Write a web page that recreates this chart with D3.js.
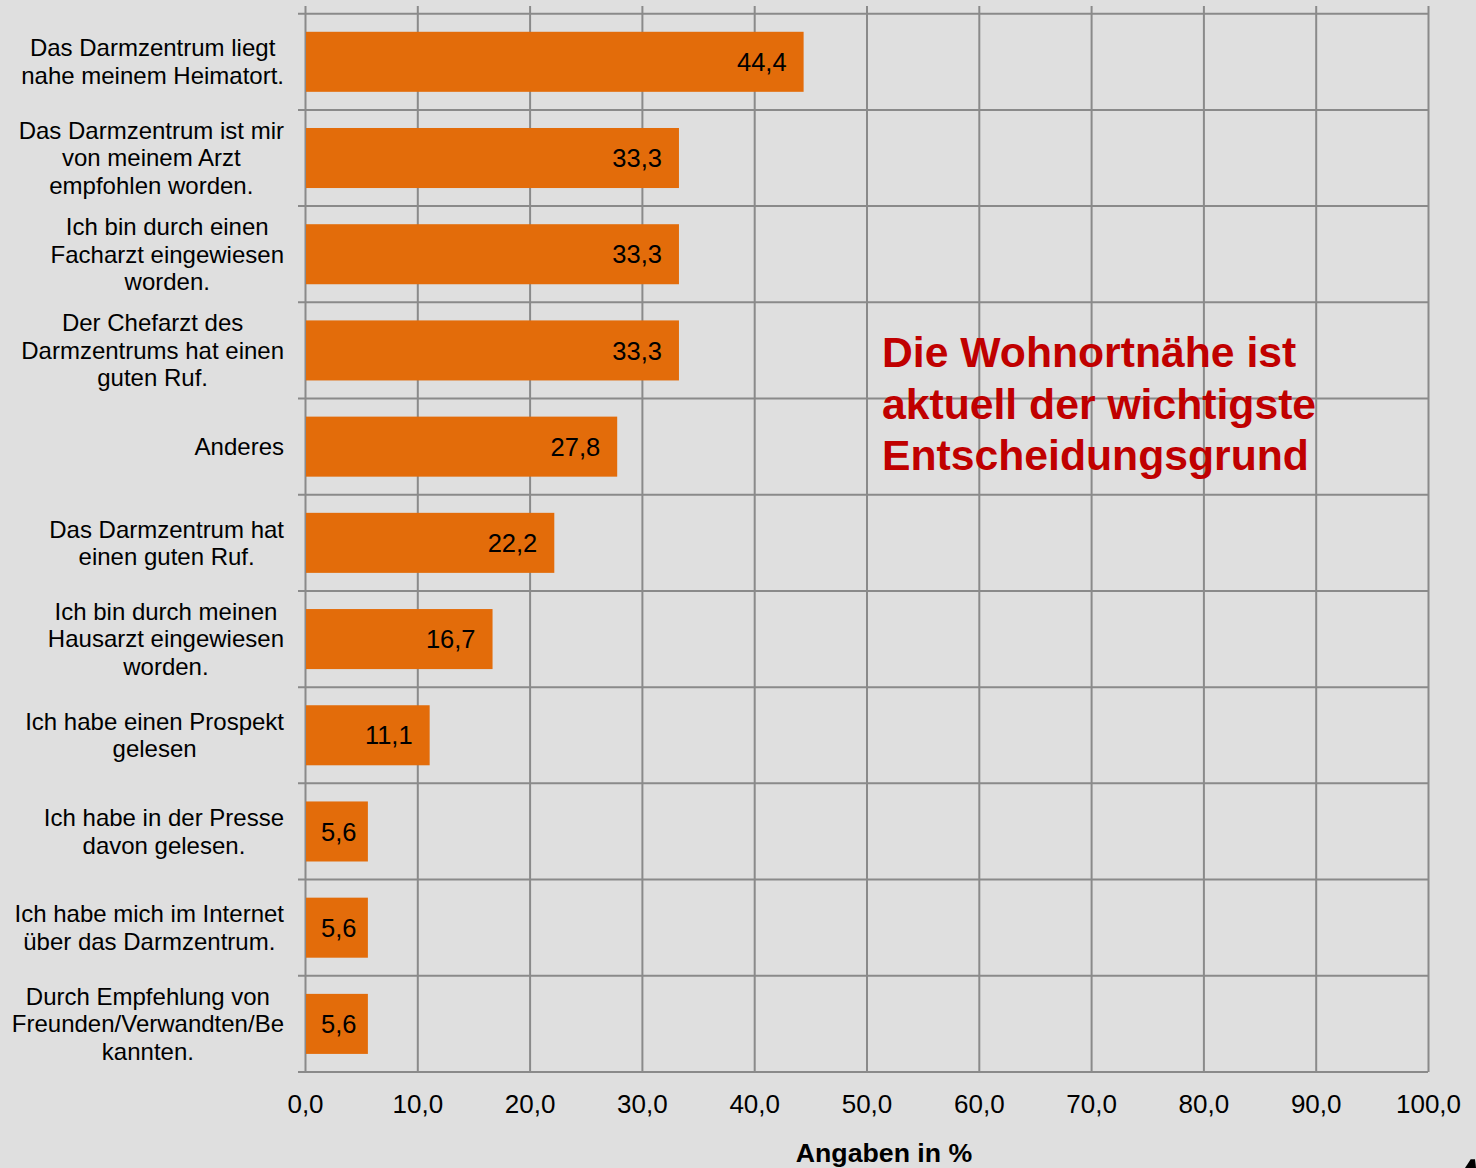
<!DOCTYPE html>
<html lang="de">
<head>
<meta charset="utf-8">
<title>Entscheidungsgründe Darmzentrum</title>
<script src="https://cdn.jsdelivr.net/npm/d3@7/dist/d3.min.js"></script>
<style>
  html, body { margin: 0; padding: 0; background: #dfdfdf; }
  svg { display: block; font-family: "Liberation Sans", Arial, Helvetica, sans-serif; }
</style>
</head>
<body>
<svg id="chart" width="1476" height="1168"></svg>
<script>
// Antwortkategorien (mehrzeilige Beschriftung) und Anteile in %
const categoryLines = [
  ["Das Darmzentrum liegt", "nahe meinem Heimatort."],
  ["Das Darmzentrum ist mir", "von meinem Arzt", "empfohlen worden."],
  ["Ich bin durch einen", "Facharzt eingewiesen", "worden."],
  ["Der Chefarzt des", "Darmzentrums hat einen", "guten Ruf."],
  ["Anderes"],
  ["Das Darmzentrum hat", "einen guten Ruf."],
  ["Ich bin durch meinen", "Hausarzt eingewiesen", "worden."],
  ["Ich habe einen Prospekt", "gelesen"],
  ["Ich habe in der Presse", "davon gelesen."],
  ["Ich habe mich im Internet", "über das Darmzentrum."],
  ["Durch Empfehlung von", "Freunden/Verwandten/Be", "kannten."]
];
const values = [44.4, 33.3, 33.3, 33.3, 27.8, 22.2, 16.7, 11.1, 5.6, 5.6, 5.6];
const xTicks = [0, 10, 20, 30, 40, 50, 60, 70, 80, 90, 100];
const axisTitle = "Angaben in %";
const noteLines = ["Die Wohnortnähe ist", "aktuell der wichtigste", "Entscheidungsgrund"];

const svg = d3.select("#chart");
const W = 1476, H = 1168;
const plot = { left: 305, right: 1428, top: 13.7, bottom: 1072 };

const gridColor = "#8a8a8a";
const barColor = "#e36c0a";
const fmt = v => d3.format(".1f")(v).replace(".", ",");

svg.append("rect").attr("width", W).attr("height", H).attr("fill", "#dfdfdf");

const x = d3.scaleLinear().domain([0, 100]).range([plot.left, plot.right]);
const idx = d3.range(categoryLines.length);
const rows = d3.scaleBand().domain(idx).range([plot.top, plot.bottom]).padding(0);
const bars = d3.scaleBand().domain(idx).range([plot.top, plot.bottom])
  .paddingInner(0.376).paddingOuter(0.188);

// Vertikale Gitterlinien und Achsenbeschriftung
const xAxis = d3.axisBottom(x)
  .tickValues(xTicks)
  .tickSize(-(plot.bottom - 6))
  .tickFormat(fmt);

const gx = svg.append("g")
  .attr("transform", `translate(0,${plot.bottom})`)
  .call(xAxis);
gx.select(".domain").remove();
gx.selectAll(".tick line").attr("stroke", gridColor).attr("stroke-width", 2);
gx.selectAll(".tick text")
  .attr("y", 41).attr("dy", null)
  .attr("fill", "#000")
  .style("font-size", "26px");

// Horizontale Trennlinien zwischen den Kategorien
const boundaries = d3.range(categoryLines.length + 1)
  .map(i => plot.top + i * rows.step());
svg.append("g").selectAll("line").data(boundaries).join("line")
  .attr("x1", 298).attr("x2", plot.right)
  .attr("y1", d => d).attr("y2", d => d)
  .attr("stroke", gridColor).attr("stroke-width", 2);

// Balken
svg.append("g").selectAll("rect").data(values).join("rect")
  .attr("x", x(0) + 1)
  .attr("y", (d, i) => bars(i))
  .attr("width", d => x(d) - x(0) - 1)
  .attr("height", bars.bandwidth())
  .attr("fill", barColor);

// Wertebeschriftung innen am Balkenende
const valueLabels = svg.append("g").selectAll("text").data(values).join("text")
  .attr("y", (d, i) => rows(i) + rows.bandwidth() / 2)
  .attr("dy", "0.36em")
  .attr("text-anchor", "end")
  .style("font-size", "25.5px")
  .attr("fill", "#000")
  .text(fmt);
valueLabels.attr("x", function (d) {
  const w = this.getComputedTextLength();
  return Math.max(x(d) - 17, x(0) + 16 + w);
});

// Kategoriebeschriftung: Zeilen zentriert, Block rechtsbündig
const lineH = 27.5;
const labelRight = 284;
idx.forEach(i => {
  const lines = categoryLines[i];
  const cy = rows(i) + rows.bandwidth() / 2;
  const g = svg.append("g");
  const t = g.selectAll("text").data(lines).join("text")
    .attr("y", (d, j) => cy + (j - (lines.length - 1) / 2) * lineH)
    .attr("dy", "0.35em")
    .attr("text-anchor", "middle")
    .style("font-size", "24px")
    .attr("fill", "#000")
    .text(d => d);
  let maxW = 0;
  t.each(function () { maxW = Math.max(maxW, this.getComputedTextLength()); });
  t.attr("x", labelRight - maxW / 2);
});

// Achsentitel
svg.append("text")
  .attr("x", 884).attr("y", 1162)
  .attr("text-anchor", "middle")
  .style("font-size", "26.7px").style("font-weight", "bold")
  .attr("fill", "#000")
  .text(axisTitle);

// Hinweistext
svg.append("g").selectAll("text").data(noteLines).join("text")
  .attr("x", 882)
  .attr("y", (d, i) => 367 + i * 51.5)
  .style("font-size", "42.7px").style("font-weight", "bold")
  .attr("fill", "#c00000")
  .text(d => d);

// Angeschnittene Ecke am unteren Seitenrand
svg.append("path")
  .attr("d", "M1465,1168 L1470.7,1159.3 L1475,1159.3 L1476,1168 Z")
  .attr("fill", "#000");
</script>
</body>
</html>
